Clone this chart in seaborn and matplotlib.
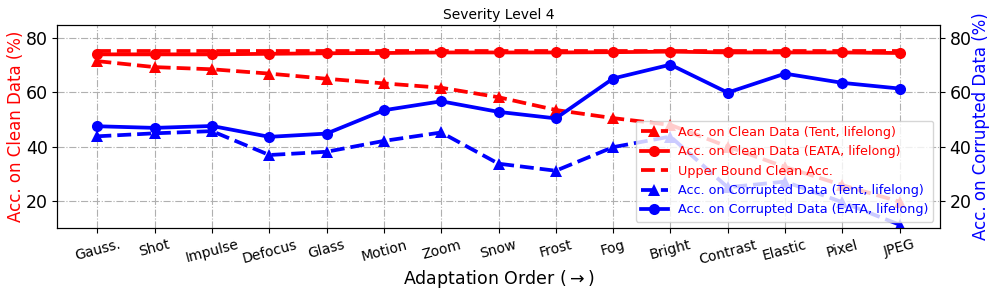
import numpy as np
import pandas as pd
import matplotlib
matplotlib.use("Agg")
import matplotlib.pyplot as plt
import seaborn as sns

plt.rcParams['font.family'] = ['DejaVu Sans']

corruptions = ["Gauss.", "Shot", "Impulse", "Defocus", "Glass", "Motion", "Zoom",
               "Snow", "Frost", "Fog", "Bright", "Contrast", "Elastic", "Pixel", "JPEG"]

clean_tent = [71.5, 69.3, 68.5, 66.9, 65.0, 63.3, 61.7, 58.2, 53.5, 50.5, 48.0, 40.0, 32.5, 25.8, 19.7]
clean_eata = [74.0, 74.0, 74.0, 74.2, 74.4, 74.5, 74.7, 74.7, 74.7, 74.8, 75.0, 74.7, 74.7, 74.7, 74.5]
upper_bound = [75.1] * 15
corr_tent = [43.8, 44.9, 45.7, 36.9, 38.1, 42.1, 45.2, 33.7, 31.1, 39.8, 43.7, 25.0, 27.1, 19.5, 11.2]
corr_eata = [47.5, 46.9, 47.6, 43.6, 44.8, 53.4, 56.7, 52.8, 50.4, 65.1, 70.2, 59.9, 66.9, 63.5, 61.4]

x = np.arange(len(corruptions))
df = pd.DataFrame({"x": x, "clean_tent": clean_tent, "clean_eata": clean_eata,
                   "upper": upper_bound, "corr_tent": corr_tent, "corr_eata": corr_eata})

fig = plt.figure(figsize=(9.97, 2.99), dpi=100)
ax1 = fig.add_axes([0.0575, 0.2375, 0.885, 0.6805])
ax2 = ax1.twinx()

lw = 2.7
ms = 8
sns.lineplot(data=df, x="x", y="clean_tent", ax=ax1, color="red", marker="^", markersize=ms+1,
             linestyle="--", linewidth=lw, markeredgewidth=0, label="Acc. on Clean Data (Tent, lifelong)")
sns.lineplot(data=df, x="x", y="clean_eata", ax=ax1, color="red", marker="o", markersize=ms,
             linestyle="-", linewidth=lw, markeredgewidth=0, label="Acc. on Clean Data (EATA, lifelong)")
sns.lineplot(data=df, x="x", y="upper", ax=ax1, color="red",
             linestyle="--", linewidth=lw, label="Upper Bound Clean Acc.")
sns.lineplot(data=df, x="x", y="corr_tent", ax=ax2, color="blue", marker="^", markersize=ms+1,
             linestyle="--", linewidth=lw, markeredgewidth=0, label="Acc. on Corrupted Data (Tent, lifelong)")
sns.lineplot(data=df, x="x", y="corr_eata", ax=ax2, color="blue", marker="o", markersize=ms,
             linestyle="-", linewidth=lw, markeredgewidth=0, label="Acc. on Corrupted Data (EATA, lifelong)")

for ax in (ax1, ax2):
    ax.set_ylim(10, 85)
    ax.set_xlim(-0.7, 14.7)
    ax.set_yticks([20, 40, 60, 80])
    ax.tick_params(axis='y', labelsize=12.5, colors='black')

ax1.set_xticks(x)
ax1.set_xticklabels(corruptions, rotation=15, fontsize=10)
ax1.grid(True, linestyle='-.', color='#b0b0b0', linewidth=0.8)
ax1.set_axisbelow(True)

ax1.set_xlabel(r"Adaptation Order ($\rightarrow$)", fontsize=12.5, labelpad=1)
ax1.set_ylabel("Acc. on Clean Data (%)", color="red", fontsize=12, labelpad=0)
ax2.set_ylabel("Acc. on Corrupted Data (%)", color="blue", fontsize=12, labelpad=0.5)
ax1.set_title("Severity Level 4", fontsize=10, pad=4)

h1, l1 = ax1.get_legend_handles_labels()
h2, l2 = ax2.get_legend_handles_labels()
ax1.get_legend().remove()
ax2.get_legend().remove()
ax2.legend(h1 + h2, l1 + l2, loc="lower right", fontsize=9.2, labelcolor="linecolor",
           handlelength=2.1, borderpad=0.4, labelspacing=0.5)

fig.savefig("out.png", dpi=100)
